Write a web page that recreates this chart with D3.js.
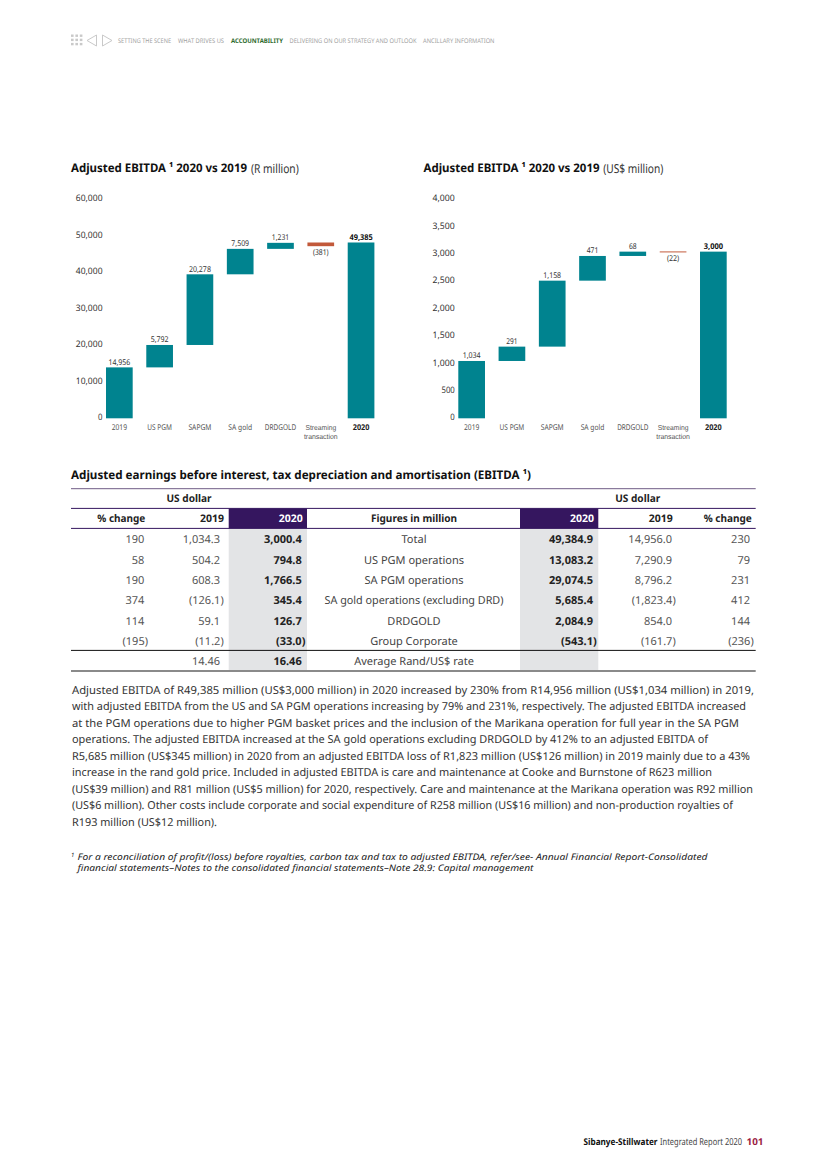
<!DOCTYPE html>
<html><head><meta charset="utf-8">
<script src="https://cdn.jsdelivr.net/npm/d3@7/dist/d3.min.js"></script>
<style>html,body{margin:0;padding:0;background:#fff}svg{display:block}text{font-family:"Noto Sans","Open Sans",sans-serif;text-rendering:geometricPrecision}</style>
</head><body><div id="c"></div>
<script>
const navItems = ["SETTING THE SCENE","WHAT DRIVES US","ACCOUNTABILITY","DELIVERING ON OUR STRATEGY AND OUTLOOK","ANCILLARY INFORMATION"];
const categories = ["2019","US PGM","SAPGM","SA gold","DRDGOLD","Streaming transaction","2020"];
const randTicks = [0,10000,20000,30000,40000,50000,60000];
const randLow  = [0,13950,20090,39450,46420,47155,0];
const randHigh = [13950,20090,39450,46420,48070,48165,48165];
const randLabels = ["14,956","5,792","20,278","7,509","1,231","(381)","49,385"];
const usdTicks = [0,500,1000,1500,2000,2500,3000,3500,4000];
const usdLow  = [0,1047,1309,2514,2965,3030,0];
const usdHigh = [1047,1309,2514,2965,3044,3048,3044];
const usdLabels = ["1,034","291","1,158","471","68","(22)","3,000"];
const tableHeadLeft = ["% change","2019","2020"];
const tableHeadRight = ["2020","2019","% change"];
const figureLabels = ["Total","US PGM operations","SA PGM operations","SA gold operations (excluding DRD)","DRDGOLD","Group Corporate","Average Rand/US$ rate"];
const usdChange = ["190","58","190","374","114","(195)",""];
const usd2019 = ["1,034.3","504.2","608.3","(126.1)","59.1","(11.2)","14.46"];
const usd2020 = ["3,000.4","794.8","1,766.5","345.4","126.7","(33.0)","16.46"];
const rand2020 = ["49,384.9","13,083.2","29,074.5","5,685.4","2,084.9","(543.1)",""];
const rand2019 = ["14,956.0","7,290.9","8,796.2","(1,823.4)","854.0","(161.7)",""];
const randChange = ["230","79","231","412","144","(236)",""];
const bodyLines = [
"Adjusted EBITDA of R49,385 million (US$3,000 million) in 2020 increased by 230% from R14,956 million (US$1,034 million) in 2019,",
"with adjusted EBITDA from the US and SA PGM operations increasing by 79% and 231%, respectively. The adjusted EBITDA increased",
"at the PGM operations due to higher PGM basket prices and the inclusion of the Marikana operation for full year in the SA PGM",
"operations. The adjusted EBITDA increased at the SA gold operations excluding DRDGOLD by 412% to an adjusted EBITDA of",
"R5,685 million (US$345 million) in 2020 from an adjusted EBITDA loss of R1,823 million (US$126 million) in 2019 mainly due to a 43%",
"increase in the rand gold price. Included in adjusted EBITDA is care and maintenance at Cooke and Burnstone of R623 million",
"(US$39 million) and R81 million (US$5 million) for 2020, respectively. Care and maintenance at the Marikana operation was R92 million",
"(US$6 million). Other costs include corporate and social expenditure of R258 million (US$16 million) and non-production royalties of",
"R193 million (US$12 million)."];
const footLines = [
"For a reconciliation of profit/(loss) before royalties, carbon tax and tax to adjusted EBITDA, refer/see- Annual Financial Report-Consolidated",
"financial statements–Notes to the consolidated financial statements–Note 28.9: Capital management"];

const TEAL="#00838f", RED="#c2593a", PURPLE="#35165f", INK="#3c3c3c";
const svg=d3.select("#c").append("svg").attr("width",826).attr("height",1168);

function T(g,s,x,y,o={}){
  const t=g.append("text").attr("dominant-baseline","central")
    .attr("font-size",o.size||11).attr("fill",o.fill||INK).attr("text-anchor",o.anchor||"start")
    .attr("font-weight",o.bold?700:400).text(s);
  if(o.font)t.style("font-family",o.font);
  if(o.italic)t.attr("font-style","italic");
  let sx=1;
  if(o.w){ sx=o.w/t.node().getComputedTextLength(); }
  t.attr("transform",`translate(${x},${y}) scale(${sx},1)`);
  return t;
}
// nav
const nav=svg.append("g");
const dotsX=d3.range(3),dotsY=d3.range(3);
dotsX.forEach(i=>dotsY.forEach(j=>nav.append("rect").attr("x",71+i*4.4).attr("y",34.5+j*4.2).attr("width",2.6).attr("height",2.4).attr("fill","#c9c9c9")));
nav.append("path").attr("d","M96.5 35 L87 40.5 L96.5 46 Z").attr("fill","none").attr("stroke","#c9c9c9");
nav.append("path").attr("d","M102.5 35 L112 40.5 L102.5 46 Z").attr("fill","none").attr("stroke","#c9c9c9");
const navX=[[118,53],[178,46],[231,52],[289.5,127],[423,71.5]];
navItems.forEach((s,i)=>T(nav,s,navX[i][0],40.5,{size:6.4,fill:i==2?"#2e6b2e":"#a0a0a0",bold:i==2,w:navX[i][1]}));

// charts
function title(x,y,bold,w1,light,x2,w2){
  T(svg,bold,x,y,{size:11.8,bold:true,fill:"#111",w:w1});
  T(svg,light,x2,y,{size:12.4,fill:"#333",w:w2});
}
title(71,168.2,"Adjusted EBITDA ¹ 2020 vs 2019",176,"(R million)",251,47.7);
title(423.5,168.2,"Adjusted EBITDA ¹ 2020 vs 2019",176,"(US$ million)",603.3,60);

const catW=[15.3,24.7,23,23.7,31.3,0,16.7];
function chart(o){
  const g=svg.append("g");
  const x=d3.scaleBand().domain(categories).range([o.x0,o.x1]).paddingInner(0.3375).paddingOuter(0);
  const y=d3.scaleLinear().domain([0,o.max]).range([418.3,418.3-o.max*o.k]);
  const axis=d3.axisLeft(y).tickValues(o.ticks).tickSize(0).tickPadding(0).tickFormat(d3.format(","));
  const ag=g.append("g").attr("transform",`translate(${o.x0-3.5},-1.6)`).call(axis);
  ag.select(".domain").remove();
  ag.selectAll("text").attr("font-size",9).attr("fill","#333").attr("font-family",'"Noto Sans"').attr("dy","0.34em")
    .attr("textLength",d=>String(d3.format(",")(d)).length*4.45).attr("lengthAdjust","spacingAndGlyphs");
  g.selectAll("rect.b").data(categories).join("rect").attr("class","b")
    .attr("x",d=>x(d)).attr("width",x.bandwidth())
    .attr("y",(d,i)=>y(o.high[i])).attr("height",(d,i)=>y(o.low[i])-y(o.high[i]))
    .attr("fill",(d,i)=>i==5?RED:TEAL);
  categories.forEach((c,i)=>{
    const cx=x(c)+x.bandwidth()/2;
    const neg=i==5;
    const ly=neg? y(o.low[i])+6.3 : y(o.high[i])-5;
    T(g,o.labels[i],cx,ly,{size:8,anchor:"middle",bold:i==6,fill:i==6?"#111":"#333",w:o.lw[i]});
    if(neg){
      const [a,b]=c.split(" ");
      T(g,a,cx,427.8,{size:7.2,anchor:"middle",fill:"#555",w:30.7,font:'"Liberation Sans"'});
      T(g,b,cx,436.3,{size:7.2,anchor:"middle",fill:"#555",w:33.7,font:'"Liberation Sans"'});
    } else {
      T(g,c,cx,427.8,{size:8,anchor:"middle",bold:i==6,fill:i==6?"#222":"#555",w:catW[i]});
    }
  });
}
chart({x0:106,x1:374.4,max:60000,k:219/60000,ticks:randTicks,low:randLow,high:randHigh,labels:randLabels,lw:[21.7,18,22,17.7,17.3,15.7,23.3]});
chart({x0:458.3,x1:726.7,max:4000,k:219/4000,ticks:usdTicks,low:usdLow,high:usdHigh,labels:usdLabels,lw:[18,11.3,17.7,11.7,7.7,12.3,19.3]});

// table
const t=svg.append("g");
T(t,"Adjusted earnings before interest, tax depreciation and amortisation (EBITDA ¹)",71,475,{size:11.8,bold:true,fill:"#111",w:460});
const L=71,R=755.7;
t.append("rect").attr("x",228.7).attr("y",508.5).attr("width",78.3).attr("height",20).attr("fill",PURPLE);
t.append("rect").attr("x",520).attr("y",508.5).attr("width",78.3).attr("height",20).attr("fill",PURPLE);
t.append("rect").attr("x",228.7).attr("y",528.5).attr("width",78.3).attr("height",142).attr("fill","#e3e4e6");
t.append("rect").attr("x",520).attr("y",528.5).attr("width",78.3).attr("height",142).attr("fill","#e3e4e6");
const rule=(y,c,w)=>t.append("line").attr("x1",L).attr("x2",R).attr("y1",y).attr("y2",y).attr("stroke",c).attr("stroke-width",w);
rule(488.7,"#6f5c86",1);rule(508.4,PURPLE,1);rule(528.4,PURPLE,1);rule(650.4,"#111",1);rule(671,"#8a8a8a",2);
T(t,"US dollar",189,499.2,{size:10.5,bold:true,anchor:"middle",fill:"#222",w:45});
T(t,"US dollar",637.7,499.2,{size:10.5,bold:true,anchor:"middle",fill:"#222",w:45});
const hdrX=[145.3,224,302.7],hdrRX=[594,672.7,751.7];
tableHeadLeft.forEach((s,i)=>T(t,s,hdrX[i],519.2,{size:10.5,bold:true,anchor:"end",fill:i==2?"#fff":"#222",w:s.length>4?48:24}));
tableHeadRight.forEach((s,i)=>T(t,s,hdrRX[i],519.2,{size:10.5,bold:true,anchor:"end",fill:i==0?"#fff":"#222",w:s.length>4?48:24}));
T(t,"Figures in million",414,519.2,{size:10.5,bold:true,anchor:"middle",fill:"#222",w:86});
const rowY=d3.scaleLinear().domain([0,6]).range([539.8,661.6]);
const cols=[[usdChange,144.3,0],[usd2019,220,0],[usd2020,301.7,1],[rand2020,593,1],[rand2019,672,0],[randChange,750,0]];
cols.forEach(([arr,x,b])=>arr.forEach((s,i)=>{
  if(!s)return;
  T(t,s,s.endsWith(")")?x+3.7:x,rowY(i),{size:11,anchor:"end",bold:!!b,fill:b?"#222":"#555"});
}));
figureLabels.forEach((s,i)=>T(t,s,414,rowY(i),{size:11,anchor:"middle",fill:"#444",w:i==3?179:undefined}));

// body
const bodyW=[682,674,667,636,678,640,681,661,145];
const bodyY=d3.scaleLinear().domain([0,8]).range([690,822]);
bodyLines.forEach((s,i)=>T(svg,s,72,bodyY(i),{size:11,fill:"#333",w:bodyW[i]}));
T(svg,"1",71,855,{size:6,italic:true,fill:"#222"});
T(svg,footLines[0],77.5,856,{size:9,italic:true,fill:"#222",w:630});
T(svg,footLines[1],77.5,867,{size:9,italic:true,fill:"#222",w:456});

// footer
T(svg,"Sibanye-Stillwater",583.5,1141,{size:9.3,bold:true,fill:"#111",w:74});
T(svg,"Integrated Report 2020",660,1141,{size:9.6,fill:"#444",w:82});
T(svg,"101",746.5,1141,{size:9.6,bold:true,fill:"#9b1b42",w:17});
</script></body></html>
